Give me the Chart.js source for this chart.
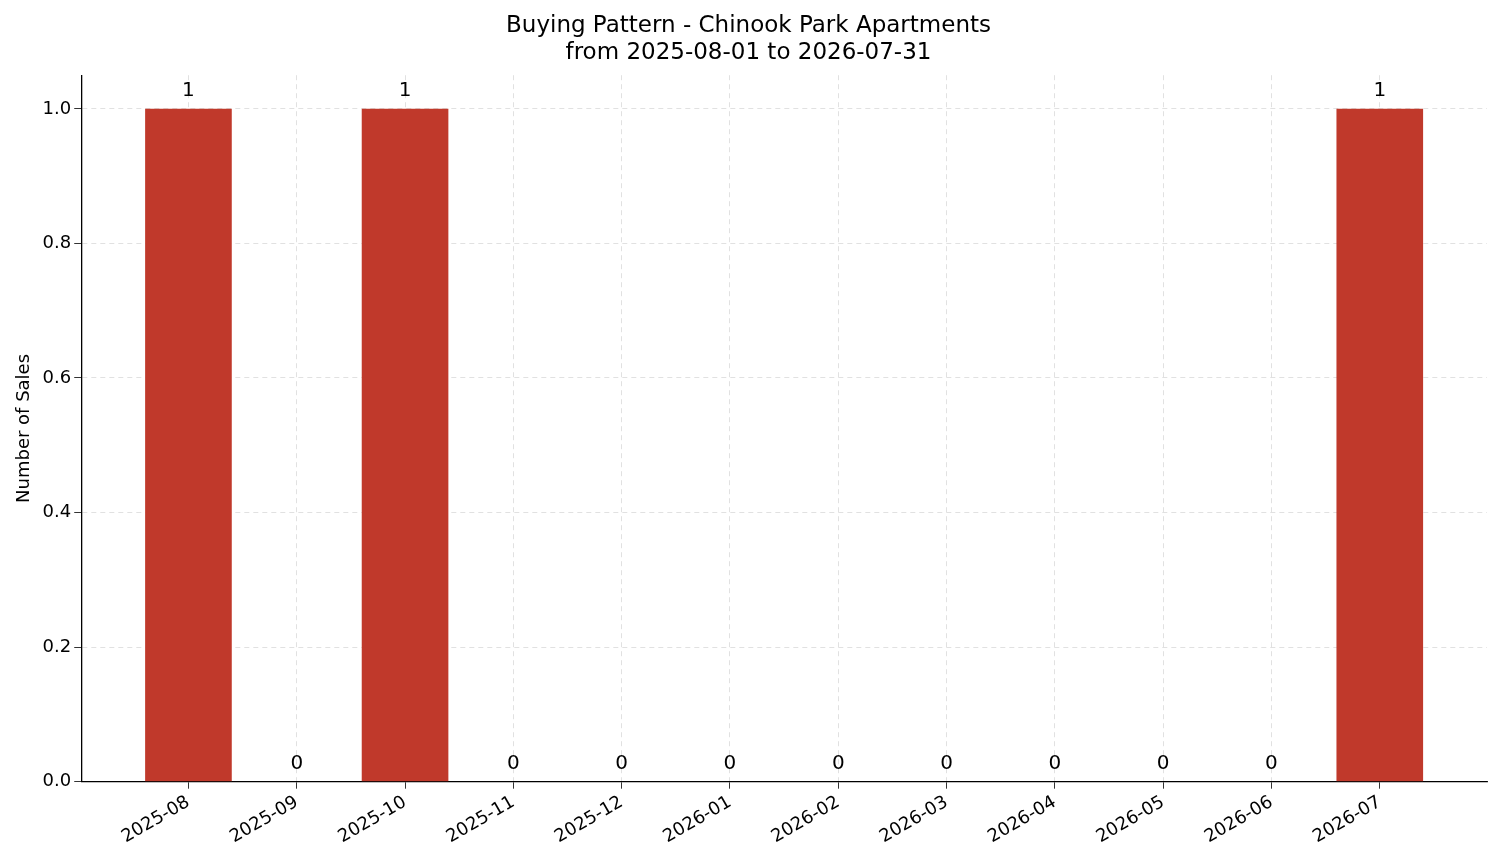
<!DOCTYPE html>
<html><head><meta charset="utf-8">
<script src="https://cdn.jsdelivr.net/npm/chart.js@4"></script>
<style>html,body{margin:0;background:#fff}#w{width:1501px;height:863px}</style>
</head><body><div id="w"><canvas id="c"></canvas></div>
<script>
const months = ["2025-08","2025-09","2025-10","2025-11","2025-12","2026-01","2026-02","2026-03","2026-04","2026-05","2026-06","2026-07"];
const sales = [1,0,1,0,0,0,0,0,0,0,0,1];
const yTicks = [0,0.2,0.4,0.6,0.8,1.0];
const labelPlugin = {id:'lbl',afterDatasetsDraw(ch){const c=ch.ctx,m=ch.getDatasetMeta(0);c.save();c.font='20px "DejaVu Sans"';c.fillStyle='#000';c.textAlign='center';c.textBaseline='bottom';
m.data.forEach((b,i)=>{c.fillText(String(sales[i]),b.x,b.y-8);});c.restore();}};
const grid={color:'#d9d9d9',lineWidth:0.8,tickColor:'#000',tickLength:7,offset:false};
new Chart(document.getElementById('c'),{type:'bar',
data:{datasets:[{data:sales.map((v,i)=>({x:i,y:v})),backgroundColor:'#c0392b',barPercentage:0.8,categoryPercentage:1}]},
options:{responsive:true,maintainAspectRatio:false,animation:false,
layout:{padding:{left:10,right:14,top:6,bottom:12}},
plugins:{legend:{display:false},tooltip:{enabled:false},
title:{display:true,text:['Buying Pattern - Chinook Park Apartments','from 2025-08-01 to 2026-07-31'],color:'#000',font:{family:'DejaVu Sans',size:23,weight:'normal'},padding:{top:6,bottom:8},lineHeight:1.15}},
scales:{
x:{type:'linear',min:-0.99,max:11.99,offset:false,
afterBuildTicks(a){a.ticks=months.map((_,i)=>({value:i}));},
ticks:{callback:v=>months[v],maxRotation:30,minRotation:30,color:'#000',font:{family:'DejaVu Sans',size:18},autoSkip:false},
grid:{...grid},border:{color:'#000',width:1.3,dash:[5,4]}},
y:{min:0,max:1.05,afterBuildTicks(a){a.ticks=yTicks.map(v=>({value:v}));},
ticks:{callback:v=>v.toFixed(1),color:'#000',font:{family:'DejaVu Sans',size:18}},
title:{display:true,text:'Number of Sales',color:'#000',font:{family:'DejaVu Sans',size:18}},
grid:{...grid},border:{color:'#000',width:1.3,dash:[5,4]}}}},
plugins:[labelPlugin]});
</script></body></html>
